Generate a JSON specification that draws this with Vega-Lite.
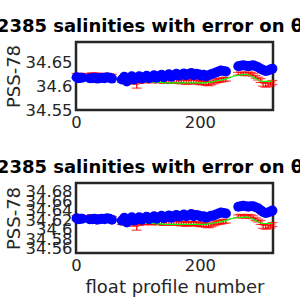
{
  "$schema": "https://vega.github.io/schema/vega-lite/v6.json",
  "autosize": {"type": "none"},
  "padding": {"left": 76, "top": 42, "right": 27, "bottom": 258},
  "background": "white",
  "config": {
    "font": "DejaVu Sans",
    "view": {"stroke": "#262626", "strokeWidth": 2.5},
    "axis": {"domain": false, "ticks": false, "grid": false, "labelFont": "DejaVu Sans", "labelFontSize": 16.4, "labelColor": "#262626", "titleFont": "DejaVu Sans", "titleFontSize": 18, "titleFontWeight": "normal", "titleColor": "#262626", "labelFlush": false, "labelOverlap": false, "labelBound": false},
    "axisY": {"labelPadding": 4, "titlePadding": 2},
    "axisX": {"labelPadding": 4, "titlePadding": 5},
    "title": {"font": "DejaVu Sans", "fontSize": 18, "fontWeight": "bold", "color": "#000000", "baseline": "alphabetic", "anchor": "middle", "dx": -24.5, "offset": 6}
  },
  "datasets": {
    "d": [
      {"p": 1, "s": 34.619, "c": 34.622, "e": 0.005, "m": 34.624, "s2": 34.624, "c2": 34.625, "e2": 0.005, "m2": 34.628},
      {"p": 4, "s": 34.617, "c": 34.621, "e": 0.005, "m": 34.624, "s2": 34.622, "c2": 34.624, "e2": 0.005, "m2": 34.628},
      {"p": 7, "s": 34.618, "c": 34.622, "e": 0.005, "m": 34.623, "s2": 34.623, "c2": 34.625, "e2": 0.005, "m2": 34.627},
      {"p": 10, "s": 34.618, "c": 34.621, "e": 0.005, "m": 34.622, "s2": 34.623, "c2": 34.624, "e2": 0.005, "m2": 34.626},
      {"p": 14, "s": null, "c": null, "e": null, "m": 34.620, "s2": null, "c2": null, "e2": null, "m2": 34.624},
      {"p": 18, "s": null, "c": null, "e": null, "m": 34.618, "s2": null, "c2": null, "e2": null, "m2": 34.622},
      {"p": 22, "s": 34.617, "c": 34.622, "e": 0.005, "m": 34.618, "s2": 34.622, "c2": 34.625, "e2": 0.005, "m2": 34.622},
      {"p": 26, "s": 34.617, "c": 34.623, "e": 0.005, "m": 34.618, "s2": 34.622, "c2": 34.626, "e2": 0.005, "m2": 34.622},
      {"p": 30, "s": 34.618, "c": 34.623, "e": 0.005, "m": 34.618, "s2": 34.623, "c2": 34.626, "e2": 0.005, "m2": 34.622},
      {"p": 34, "s": 34.616, "c": 34.622, "e": 0.005, "m": 34.618, "s2": 34.621, "c2": 34.625, "e2": 0.005, "m2": 34.622},
      {"p": 38, "s": 34.617, "c": 34.621, "e": 0.005, "m": 34.618, "s2": 34.622, "c2": 34.624, "e2": 0.005, "m2": 34.622},
      {"p": 42, "s": 34.618, "c": 34.622, "e": 0.005, "m": 34.618, "s2": 34.623, "c2": 34.625, "e2": 0.005, "m2": 34.622},
      {"p": 46, "s": 34.617, "c": 34.621, "e": 0.005, "m": 34.618, "s2": 34.622, "c2": 34.624, "e2": 0.005, "m2": 34.622},
      {"p": 50, "s": 34.619, "c": 34.622, "e": 0.005, "m": 34.618, "s2": 34.624, "c2": 34.625, "e2": 0.005, "m2": 34.622},
      {"p": 54, "s": 34.618, "c": 34.621, "e": 0.005, "m": 34.618, "s2": 34.623, "c2": 34.624, "e2": 0.005, "m2": 34.622},
      {"p": 58, "s": 34.616, "c": 34.620, "e": 0.005, "m": 34.617, "s2": 34.621, "c2": 34.623, "e2": 0.005, "m2": 34.621},
      {"p": 62, "s": null, "c": null, "e": null, "m": 34.616, "s2": null, "c2": null, "e2": null, "m2": 34.620},
      {"p": 66, "s": null, "c": null, "e": null, "m": 34.615, "s2": null, "c2": null, "e2": null, "m2": 34.619},
      {"p": 70, "s": null, "c": null, "e": null, "m": 34.613, "s2": null, "c2": null, "e2": null, "m2": 34.617},
      {"p": 74, "s": 34.614, "c": 34.612, "e": 0.004, "m": 34.612, "s2": 34.619, "c2": 34.615, "e2": 0.004, "m2": 34.616},
      {"p": 78, "s": 34.620, "c": 34.611, "e": 0.004, "m": 34.612, "s2": 34.625, "c2": 34.614, "e2": 0.004, "m2": 34.616},
      {"p": 82, "s": 34.610, "c": 34.613, "e": 0.004, "m": 34.611, "s2": 34.615, "c2": 34.616, "e2": 0.004, "m2": 34.615},
      {"p": 86, "s": 34.617, "c": 34.610, "e": 0.004, "m": 34.611, "s2": 34.622, "c2": 34.613, "e2": 0.004, "m2": 34.615},
      {"p": 90, "s": 34.621, "c": 34.612, "e": 0.004, "m": 34.611, "s2": 34.626, "c2": 34.615, "e2": 0.004, "m2": 34.615},
      {"p": 94, "s": 34.614, "c": 34.608, "e": 0.004, "m": 34.610, "s2": 34.619, "c2": 34.611, "e2": 0.004, "m2": 34.614},
      {"p": 98, "s": 34.618, "c": 34.602, "e": 0.006, "m": 34.610, "s2": 34.623, "c2": 34.605, "e2": 0.006, "m2": 34.614},
      {"p": 102, "s": 34.621, "c": 34.610, "e": 0.004, "m": 34.610, "s2": 34.626, "c2": 34.613, "e2": 0.004, "m2": 34.614},
      {"p": 106, "s": 34.616, "c": 34.612, "e": 0.004, "m": 34.610, "s2": 34.621, "c2": 34.615, "e2": 0.004, "m2": 34.614},
      {"p": 110, "s": 34.619, "c": 34.611, "e": 0.004, "m": 34.610, "s2": 34.624, "c2": 34.614, "e2": 0.004, "m2": 34.614},
      {"p": 114, "s": 34.622, "c": 34.613, "e": 0.004, "m": 34.609, "s2": 34.627, "c2": 34.616, "e2": 0.004, "m2": 34.613},
      {"p": 118, "s": 34.617, "c": 34.612, "e": 0.004, "m": 34.609, "s2": 34.622, "c2": 34.615, "e2": 0.004, "m2": 34.613},
      {"p": 122, "s": 34.620, "c": 34.611, "e": 0.004, "m": 34.609, "s2": 34.625, "c2": 34.614, "e2": 0.004, "m2": 34.613},
      {"p": 126, "s": 34.623, "c": 34.612, "e": 0.004, "m": 34.609, "s2": 34.628, "c2": 34.615, "e2": 0.004, "m2": 34.613},
      {"p": 130, "s": 34.618, "c": 34.613, "e": 0.004, "m": 34.608, "s2": 34.623, "c2": 34.616, "e2": 0.004, "m2": 34.612},
      {"p": 134, "s": 34.621, "c": 34.611, "e": 0.004, "m": 34.608, "s2": 34.626, "c2": 34.614, "e2": 0.004, "m2": 34.612},
      {"p": 138, "s": 34.624, "c": 34.612, "e": 0.004, "m": 34.608, "s2": 34.629, "c2": 34.615, "e2": 0.004, "m2": 34.612},
      {"p": 142, "s": 34.619, "c": 34.610, "e": 0.004, "m": 34.607, "s2": 34.624, "c2": 34.613, "e2": 0.004, "m2": 34.611},
      {"p": 146, "s": 34.622, "c": 34.611, "e": 0.004, "m": 34.607, "s2": 34.627, "c2": 34.614, "e2": 0.004, "m2": 34.611},
      {"p": 150, "s": 34.625, "c": 34.612, "e": 0.004, "m": 34.607, "s2": 34.630, "c2": 34.615, "e2": 0.004, "m2": 34.611},
      {"p": 154, "s": 34.620, "c": 34.611, "e": 0.004, "m": 34.607, "s2": 34.625, "c2": 34.614, "e2": 0.004, "m2": 34.611},
      {"p": 158, "s": 34.623, "c": 34.610, "e": 0.004, "m": 34.607, "s2": 34.628, "c2": 34.613, "e2": 0.004, "m2": 34.611},
      {"p": 162, "s": 34.626, "c": 34.612, "e": 0.004, "m": 34.607, "s2": 34.631, "c2": 34.615, "e2": 0.004, "m2": 34.611},
      {"p": 166, "s": 34.622, "c": 34.611, "e": 0.004, "m": 34.607, "s2": 34.627, "c2": 34.614, "e2": 0.004, "m2": 34.611},
      {"p": 170, "s": 34.624, "c": 34.609, "e": 0.004, "m": 34.607, "s2": 34.629, "c2": 34.612, "e2": 0.004, "m2": 34.611},
      {"p": 174, "s": 34.627, "c": 34.610, "e": 0.004, "m": 34.607, "s2": 34.632, "c2": 34.613, "e2": 0.004, "m2": 34.611},
      {"p": 178, "s": 34.623, "c": 34.608, "e": 0.004, "m": 34.607, "s2": 34.628, "c2": 34.611, "e2": 0.004, "m2": 34.611},
      {"p": 182, "s": 34.625, "c": 34.609, "e": 0.004, "m": 34.607, "s2": 34.630, "c2": 34.612, "e2": 0.004, "m2": 34.611},
      {"p": 186, "s": 34.628, "c": 34.610, "e": 0.004, "m": 34.607, "s2": 34.633, "c2": 34.613, "e2": 0.004, "m2": 34.611},
      {"p": 190, "s": 34.623, "c": 34.609, "e": 0.004, "m": 34.607, "s2": 34.628, "c2": 34.612, "e2": 0.004, "m2": 34.611},
      {"p": 194, "s": 34.626, "c": 34.610, "e": 0.004, "m": 34.607, "s2": 34.631, "c2": 34.613, "e2": 0.004, "m2": 34.611},
      {"p": 198, "s": 34.625, "c": 34.608, "e": 0.004, "m": 34.607, "s2": 34.630, "c2": 34.611, "e2": 0.004, "m2": 34.611},
      {"p": 202, "s": 34.622, "c": 34.607, "e": 0.004, "m": 34.607, "s2": 34.627, "c2": 34.610, "e2": 0.004, "m2": 34.611},
      {"p": 206, "s": 34.624, "c": 34.608, "e": 0.004, "m": 34.607, "s2": 34.628, "c2": 34.611, "e2": 0.004, "m2": 34.611},
      {"p": 210, "s": 34.621, "c": 34.606, "e": 0.004, "m": 34.607, "s2": 34.625, "c2": 34.609, "e2": 0.004, "m2": 34.611},
      {"p": 214, "s": 34.623, "c": 34.605, "e": 0.004, "m": 34.608, "s2": 34.627, "c2": 34.608, "e2": 0.004, "m2": 34.612},
      {"p": 218, "s": 34.625, "c": 34.607, "e": 0.004, "m": 34.609, "s2": 34.629, "c2": 34.610, "e2": 0.004, "m2": 34.613},
      {"p": 222, "s": 34.627, "c": 34.609, "e": 0.004, "m": 34.610, "s2": 34.630, "c2": 34.612, "e2": 0.004, "m2": 34.614},
      {"p": 226, "s": 34.629, "c": 34.611, "e": 0.004, "m": 34.611, "s2": 34.632, "c2": 34.614, "e2": 0.004, "m2": 34.615},
      {"p": 230, "s": 34.631, "c": 34.612, "e": 0.004, "m": 34.612, "s2": 34.634, "c2": 34.615, "e2": 0.004, "m2": 34.616},
      {"p": 234, "s": 34.633, "c": 34.613, "e": 0.004, "m": 34.613, "s2": 34.636, "c2": 34.616, "e2": 0.004, "m2": 34.617},
      {"p": 238, "s": 34.632, "c": 34.614, "e": 0.004, "m": 34.614, "s2": 34.635, "c2": 34.617, "e2": 0.004, "m2": 34.618},
      {"p": 242, "s": 34.631, "c": 34.615, "e": 0.004, "m": 34.615, "s2": 34.634, "c2": 34.618, "e2": 0.004, "m2": 34.619},
      {"p": 246, "s": null, "c": null, "e": null, "m": 34.617, "s2": null, "c2": null, "e2": null, "m2": 34.621},
      {"p": 250, "s": null, "c": null, "e": null, "m": 34.619, "s2": null, "c2": null, "e2": null, "m2": 34.623},
      {"p": 254, "s": null, "c": null, "e": null, "m": 34.621, "s2": null, "c2": null, "e2": null, "m2": 34.624},
      {"p": 258, "s": null, "c": null, "e": null, "m": 34.622, "s2": null, "c2": null, "e2": null, "m2": 34.625},
      {"p": 262, "s": 34.642, "c": 34.626, "e": 0.003, "m": 34.623, "s2": 34.648, "c2": 34.628, "e2": 0.003, "m2": 34.625},
      {"p": 266, "s": 34.643, "c": 34.627, "e": 0.003, "m": 34.624, "s2": 34.649, "c2": 34.629, "e2": 0.003, "m2": 34.626},
      {"p": 270, "s": 34.644, "c": 34.626, "e": 0.003, "m": 34.624, "s2": 34.650, "c2": 34.628, "e2": 0.003, "m2": 34.626},
      {"p": 274, "s": 34.643, "c": 34.625, "e": 0.003, "m": 34.625, "s2": 34.649, "c2": 34.627, "e2": 0.003, "m2": 34.627},
      {"p": 278, "s": 34.642, "c": 34.627, "e": 0.003, "m": 34.624, "s2": 34.648, "c2": 34.629, "e2": 0.003, "m2": 34.626},
      {"p": 282, "s": 34.643, "c": 34.626, "e": 0.003, "m": 34.622, "s2": 34.649, "c2": 34.628, "e2": 0.003, "m2": 34.624},
      {"p": 286, "s": 34.644, "c": 34.624, "e": 0.003, "m": 34.619, "s2": 34.649, "c2": 34.626, "e2": 0.003, "m2": 34.622},
      {"p": 290, "s": 34.642, "c": 34.620, "e": 0.003, "m": 34.616, "s2": 34.647, "c2": 34.622, "e2": 0.003, "m2": 34.619},
      {"p": 294, "s": 34.640, "c": 34.616, "e": 0.003, "m": 34.613, "s2": 34.645, "c2": 34.619, "e2": 0.003, "m2": 34.616},
      {"p": 298, "s": 34.637, "c": 34.612, "e": 0.004, "m": 34.611, "s2": 34.641, "c2": 34.615, "e2": 0.004, "m2": 34.614},
      {"p": 302, "s": 34.634, "c": 34.604, "e": 0.004, "m": 34.610, "s2": 34.637, "c2": 34.607, "e2": 0.004, "m2": 34.613},
      {"p": 306, "s": 34.632, "c": 34.602, "e": 0.004, "m": 34.610, "s2": 34.635, "c2": 34.605, "e2": 0.004, "m2": 34.613},
      {"p": 310, "s": 34.633, "c": 34.603, "e": 0.004, "m": 34.610, "s2": 34.636, "c2": 34.606, "e2": 0.004, "m2": 34.613},
      {"p": 314, "s": 34.635, "c": 34.605, "e": 0.004, "m": 34.610, "s2": 34.638, "c2": 34.608, "e2": 0.004, "m2": 34.613},
      {"p": 317, "s": 34.637, "c": 34.608, "e": 0.004, "m": 34.610, "s2": 34.640, "c2": 34.611, "e2": 0.004, "m2": 34.613}
    ]
  },
  "spacing": 73,
  "bounds": "flush",
  "vconcat": [
    {
      "width": 197,
      "height": 68,
      "data": {"name": "d"},
      "title": {"text": "2385 salinities with error on θ"},
      "layer": [
        {
          "transform": [{"filter": "datum.c != null"}],
          "mark": {"type": "errorbar", "color": "#ff0000", "thickness": 1.2, "ticks": {"size": 10, "color": "#ff0000"}},
          "encoding": {
            "x": {"field": "p", "type": "quantitative", "scale": {"domain": [0, 318], "nice": false, "zero": false}, "axis": {"values": [0, 200], "title": null}},
            "y": {"field": "c", "type": "quantitative", "scale": {"domain": [34.55, 34.693], "nice": false, "zero": false}, "axis": {"values": [34.55, 34.6, 34.65], "format": ".2~f", "title": "PSS-78"}},
            "yError": {"field": "e"}
          }
        },
        {
          "mark": {"type": "line", "color": "#00ff00", "strokeWidth": 1.2},
          "encoding": {
            "x": {"field": "p", "type": "quantitative", "scale": {"domain": [0, 318], "nice": false, "zero": false}, "axis": {"values": [0, 200], "title": null}},
            "y": {"field": "m", "type": "quantitative", "scale": {"domain": [34.55, 34.693], "nice": false, "zero": false}, "axis": {"values": [34.55, 34.6, 34.65], "format": ".2~f", "title": "PSS-78"}}
          }
        },
        {
          "transform": [{"filter": "datum.s != null"}],
          "mark": {"type": "circle", "color": "#0000ff", "size": 100, "opacity": 1},
          "encoding": {
            "x": {"field": "p", "type": "quantitative", "scale": {"domain": [0, 318], "nice": false, "zero": false}, "axis": {"values": [0, 200], "title": null}},
            "y": {"field": "s", "type": "quantitative", "scale": {"domain": [34.55, 34.693], "nice": false, "zero": false}, "axis": {"values": [34.55, 34.6, 34.65], "format": ".2~f", "title": "PSS-78"}}
          }
        }
      ]
    },
    {
      "width": 197,
      "height": 70,
      "data": {"name": "d"},
      "title": {"text": "2385 salinities with error on θ"},
      "layer": [
        {
          "transform": [{"filter": "datum.c2 != null"}],
          "mark": {"type": "errorbar", "color": "#ff0000", "thickness": 1.2, "ticks": {"size": 10, "color": "#ff0000"}},
          "encoding": {
            "x": {"field": "p", "type": "quantitative", "scale": {"domain": [0, 318], "nice": false, "zero": false}, "axis": {"values": [0, 200], "title": "float profile number"}},
            "y": {"field": "c2", "type": "quantitative", "scale": {"domain": [34.551, 34.698], "nice": false, "zero": false}, "axis": {"values": [34.56, 34.58, 34.6, 34.62, 34.64, 34.66, 34.68], "format": ".2~f", "title": "PSS-78"}},
            "yError": {"field": "e2"}
          }
        },
        {
          "mark": {"type": "line", "color": "#00ff00", "strokeWidth": 1.2},
          "encoding": {
            "x": {"field": "p", "type": "quantitative", "scale": {"domain": [0, 318], "nice": false, "zero": false}, "axis": {"values": [0, 200], "title": "float profile number"}},
            "y": {"field": "m2", "type": "quantitative", "scale": {"domain": [34.551, 34.698], "nice": false, "zero": false}, "axis": {"values": [34.56, 34.58, 34.6, 34.62, 34.64, 34.66, 34.68], "format": ".2~f", "title": "PSS-78"}}
          }
        },
        {
          "transform": [{"filter": "datum.s2 != null"}],
          "mark": {"type": "circle", "color": "#0000ff", "size": 100, "opacity": 1},
          "encoding": {
            "x": {"field": "p", "type": "quantitative", "scale": {"domain": [0, 318], "nice": false, "zero": false}, "axis": {"values": [0, 200], "title": "float profile number"}},
            "y": {"field": "s2", "type": "quantitative", "scale": {"domain": [34.551, 34.698], "nice": false, "zero": false}, "axis": {"values": [34.56, 34.58, 34.6, 34.62, 34.64, 34.66, 34.68], "format": ".2~f", "title": "PSS-78"}}
          }
        }
      ]
    }
  ]
}
